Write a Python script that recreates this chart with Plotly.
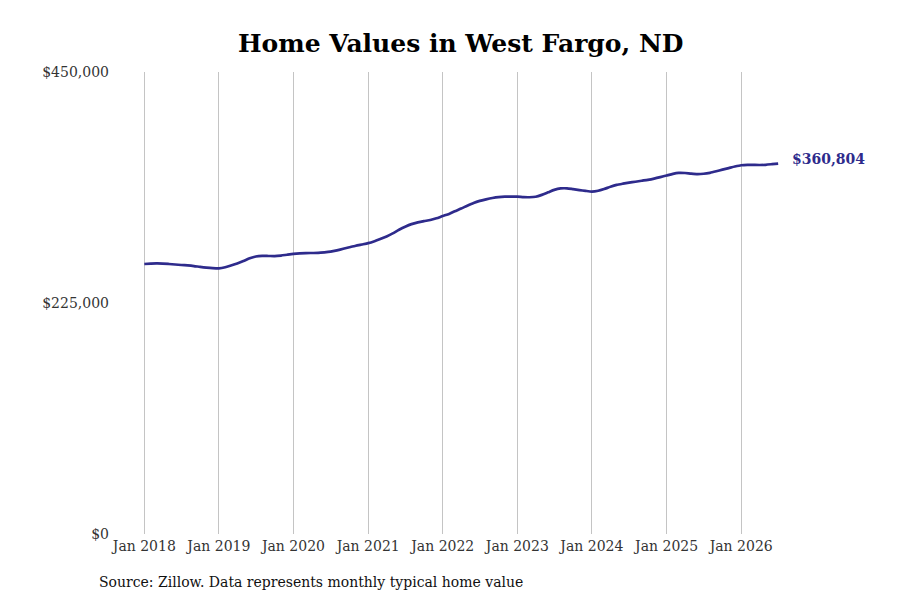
import plotly.graph_objects as go
import pandas as pd

dates = pd.date_range("2018-01-01", periods=103, freq="MS")
values = [
    263000, 263300, 263500, 263400, 263000, 262500, 262000, 261600, 261000, 260200, 259500, 259000,
    258800, 259800, 261500, 263500, 265800, 268500, 270300, 270900, 270800, 270700, 271200, 272000,
    272800, 273300, 273600, 273700, 273800, 274300, 275000, 276300, 277800, 279300, 280800, 282000,
    283300, 285200, 287300, 289800, 292800, 296300, 299300, 301800, 303500, 304700, 305800, 307500,
    309700, 311800, 314300, 317000, 319800, 322500, 324500, 326000, 327300, 328200, 328600, 328600,
    328600, 328100, 328000, 328500, 330300, 332800, 335200, 336600, 336700, 335900, 335000, 334200,
    333500, 334300, 336000, 338200, 340000, 341200, 342200, 343100, 344100, 345000, 346200, 347600,
    349200, 350800, 351700, 351600, 351000, 350600, 350900, 351800, 353300, 354900, 356400, 357900,
    359200, 359600, 359500, 359400, 359600, 360200, 360804,
]
y_ticks = [0, 225000, 450000]
y_labels = ["$0", "$225,000", "$450,000"]
title_text = "Home Values in West Fargo, ND"
source_text = "Source: Zillow. Data represents monthly typical home value"
end_label = "$360,804"

LINE = "#2e2b8c"
SERIF = "DejaVu Serif"

# page body has an 8px margin, so the figure is offset by (8, 8)
L, R, T, B = 102, 118, 64, 74
plot_w = 900 - L - R
plot_h = 600 - T - B

fig = go.Figure()
fig.add_trace(go.Scatter(
    x=dates, y=values, mode="lines",
    line=dict(color=LINE, width=2.7, shape="spline", smoothing=0.6),
    hoverinfo="skip", showlegend=False,
))
fig.add_annotation(
    x=dates[-1], y=values[-1], text="<b>" + end_label + "</b>",
    showarrow=False, xanchor="left", yanchor="middle", xshift=12, yshift=5,
    font=dict(family=SERIF, size=14, color=LINE),
)
fig.add_annotation(
    xref="paper", yref="paper",
    x=(89 - L) / plot_w, y=(600 - 574 - B) / plot_h,
    text=source_text, showarrow=False,
    font=dict(family=SERIF, size=14, color="#111"),
    xanchor="left", yanchor="middle",
)

fig.update_layout(
    width=900, height=600,
    margin=dict(l=L, r=R, t=T, b=B),
    paper_bgcolor="white", plot_bgcolor="white",
    title=dict(text="<b>" + title_text + "</b>", x=0.503, xanchor="center", y=1 - 35 / 600, yanchor="middle",
               font=dict(family=SERIF, size=25, color="#000")),
    xaxis=dict(
        range=["2017-07-17", "2026-08-28"],
        tick0="2018-01-01", dtick="M12", tickformat="%b %Y",
        showgrid=True, gridcolor="#c4c4c4", gridwidth=1,
        showline=False, zeroline=False, ticks="", ticklabelstandoff=2,
        tickfont=dict(family=SERIF, size=14, color="#333"),
    ),
    yaxis=dict(
        range=[0, 450000], tickvals=y_ticks, ticktext=y_labels,
        showgrid=False, zeroline=False, showline=False, ticks="",
        tickfont=dict(family=SERIF, size=14, color="#333"),
    ),
)
fig.write_html("out.html")
